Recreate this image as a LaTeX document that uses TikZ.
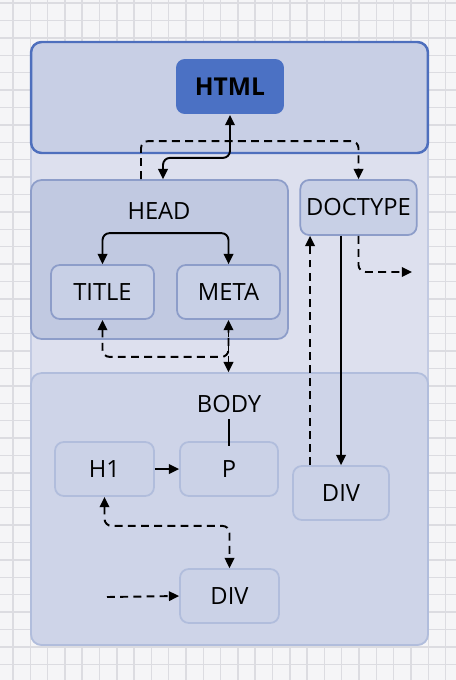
\documentclass[tikz,border=0pt]{standalone}
\usepackage{fontspec}
\setmainfont{Open Sans}
\usetikzlibrary{calc,arrows.meta}

\definecolor{paper}{HTML}{F5F5F7}
\definecolor{gridc}{HTML}{DCDCE1}
\definecolor{pagefill}{HTML}{DDE0EE}
\definecolor{pageline}{HTML}{C2CAE2}
\definecolor{rootfill}{HTML}{C8CFE5}
\definecolor{rootline}{HTML}{4E6FBD}
\definecolor{htmlfill}{HTML}{4B71C4}
\definecolor{headfill}{HTML}{C1C9E1}
\definecolor{headline}{HTML}{8D9DC9}
\definecolor{tagfill}{HTML}{C8D0E6}
\definecolor{bodyfill}{HTML}{CED4E8}
\definecolor{bodyline}{HTML}{B1BDDC}
\definecolor{softfill}{HTML}{CBD2E7}

\tikzset{
    gridline/.style={gridc, line width=0.8pt},
    group/.style={rounded corners=6pt, line width=1pt},
    tag/.style={rounded corners=5pt, line width=1pt, minimum height=1.08cm, font=\fontsize{13.5}{15}\selectfont},
    headtag/.style={tag, draw=headline, fill=tagfill},
    bodytag/.style={tag, draw=bodyline, fill=softfill},
    label/.style={font=\fontsize{13.5}{15}\selectfont},
    link/.style={line width=1.1pt, rounded corners=4pt},
    dsh/.style={link, dash pattern=on 4.5pt off 3pt},
    >={Triangle[length=5.8pt,width=5.4pt]}
}

\begin{document}
\begin{tikzpicture}[x=0.02cm, y=-0.02cm]
    \useasboundingbox (0,0) rectangle (456,680);
    \fill[paper] (0,0) rectangle (456,680);
    \foreach \x in {0,...,26} {
        \draw[gridline] ({13+17.3*\x},0) -- ++(0,680);
    };
    \foreach \y in {0,...,39} {
        \draw[gridline] (0,{3+17.4*\y}) -- ++(456,0);
    };

    % groups
    \node[group, draw=pageline, fill=pagefill, minimum width=7.94cm, minimum height=12.06cm] (page) at (229.5,343.5) {};
    \node[group, draw=rootline, fill=rootfill, line width=1.4pt, minimum width=7.94cm, minimum height=2.22cm] (root) at (229.5,97.5) {};
    \node[group, draw=headline, fill=headfill, minimum width=5.14cm, minimum height=3.18cm] (headgrp) at (159.5,259.5) {};
    \node[group, draw=bodyline, fill=bodyfill, minimum width=7.94cm, minimum height=5.44cm] (bodygrp) at (229.5,509) {};

    % tags
    \node[tag, fill=htmlfill, minimum width=2.16cm, minimum height=1.1cm, font=\fontsize{14}{16}\selectfont\bfseries] (html) at (230,86.5) {HTML};
    \node[label] (headlbl) at (159,211) {HEAD};
    \node[headtag, minimum width=2.06cm] (title) at (102.5,292) {TITLE};
    \node[headtag, minimum width=2.06cm] (meta) at (228.5,292) {META};
    \node[headtag, minimum width=2.26cm, minimum height=1.1cm] (doctype) at (358.5,207.5) {DOCTYPE};
    \node[label] (bodylbl) at (229,404) {BODY};
    \node[bodytag, minimum width=1.98cm] (h1) at (104.5,469) {H1};
    \node[bodytag, minimum width=1.96cm] (p) at (229,469) {P};
    \node[bodytag, minimum width=1.92cm] (divr) at (341,493) {DIV};
    \node[bodytag, minimum width=1.98cm] (divb) at (229.5,596) {DIV};
    \coordinate (out) at (412,272);
    \coordinate (in) at (107,597);

    % links
    \draw[link, <->] (html.south) -- ++(0,43) -| ([xshift=0.07cm]headgrp.north);
    \draw[dsh, ->] ([xshift=-0.37cm]headgrp.north) -- ++(0,-38) -| (doctype.north);
    \draw[link, <->] (title.north) -- ++(0,-31) -| (meta.north);
    \draw[dsh, <-] (title.south) -- ++(0,37) -| (meta.south);
    \draw[dsh, <->] (meta.south) -- (meta.south |- bodygrp.north);
    \draw[link] (bodylbl.south) -- ([yshift=-0.1cm]p.north);
    \draw[link, ->] (h1) -- (p);
    \draw[dsh, ->] ([xshift=-0.62cm]divr.north) -- ([xshift=-0.62cm]divr.north |- doctype.south);
    \draw[link, ->] (divr.north |- doctype.south) -- (divr.north);
    \draw[dsh, ->] (doctype.south) |- (out);
    \draw[dsh, <->] (h1.south) -- ++(0,29) -| (divb.north);
    \draw[dsh, ->] (in) -- (divb.west);
\end{tikzpicture}
\end{document}
